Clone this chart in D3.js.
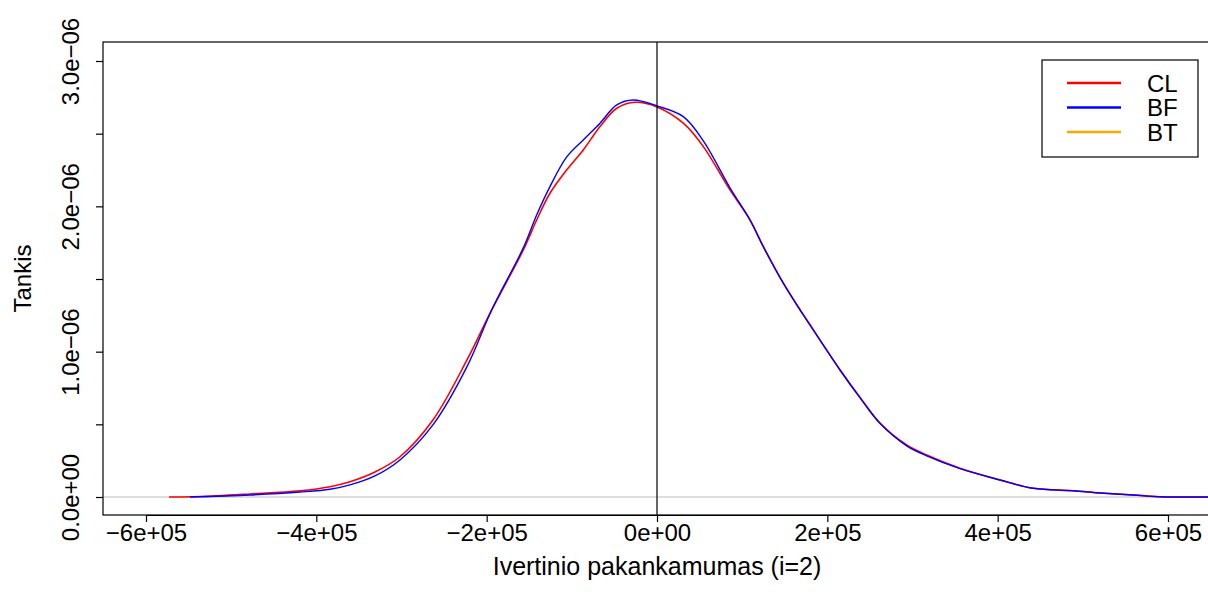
<!DOCTYPE html>
<html>
<head>
<meta charset="utf-8">
<script src="https://cdn.jsdelivr.net/npm/d3@7"></script>
<style>
  html, body { margin: 0; padding: 0; background: #fff; }
  svg { display: block; }
  text { font-family: "Liberation Sans", Arial, sans-serif; }
</style>
</head>
<body>
<svg id="chart" width="1208" height="608"></svg>
<script>
// ---- data ----
const seriesNames = ["CL", "BF", "BT"];
const seriesColors = ["#FF0000", "#0000FF", "#FFA500"];

const xCL = [-573000, -536700, -478000, -419300, -384000, -360500, -331200, -301800, -263100, -223100,
  -194100, -157000, -141300, -125700, -106000, -86600, -66900, -47300, -25800, 0,
  30900, 54400, 85700, 109200, 124800, 148300, 168000, 175800, 214900, 240400,
  261900, 293200, 316700, 355800, 402800, 441600, 488600, 520300, 559000, 590700, 647000, 700000];
const yCL = [0, 0.003e-6, 0.021e-6, 0.043e-6, 0.071e-6, 0.105e-6, 0.172e-6, 0.277e-6, 0.530e-6, 0.943e-6,
  1.287e-6, 1.700e-6, 1.906e-6, 2.090e-6, 2.251e-6, 2.388e-6, 2.549e-6, 2.675e-6, 2.716e-6, 2.684e-6,
  2.572e-6, 2.411e-6, 2.113e-6, 1.906e-6, 1.723e-6, 1.471e-6, 1.287e-6, 1.218e-6, 0.874e-6, 0.668e-6,
  0.507e-6, 0.358e-6, 0.289e-6, 0.198e-6, 0.117e-6, 0.060e-6, 0.043e-6, 0.028e-6, 0.014e-6, 0.002e-6, 0, 0];

const xBF = [-548400, -478000, -419300, -384000, -360500, -331200, -301800, -263100, -223100,
  -194100, -157000, -141300, -125700, -106000, -86600, -66900, -47300, -27800, 0,
  30900, 54400, 85700, 109200, 124800, 148300, 168000, 175800, 214900, 240400,
  261900, 293200, 316700, 355800, 402800, 441600, 488600, 520300, 559000, 590700, 647000, 700000];
const yBF = [0, 0.014e-6, 0.034e-6, 0.053e-6, 0.083e-6, 0.145e-6, 0.255e-6, 0.496e-6, 0.897e-6,
  1.287e-6, 1.714e-6, 1.941e-6, 2.136e-6, 2.340e-6, 2.457e-6, 2.572e-6, 2.698e-6, 2.732e-6, 2.691e-6,
  2.617e-6, 2.450e-6, 2.127e-6, 1.906e-6, 1.723e-6, 1.471e-6, 1.287e-6, 1.218e-6, 0.874e-6, 0.668e-6,
  0.507e-6, 0.352e-6, 0.283e-6, 0.195e-6, 0.117e-6, 0.060e-6, 0.043e-6, 0.028e-6, 0.014e-6, 0.002e-6, 0, 0];

const xTicks = [-600000, -400000, -200000, 0, 200000, 400000, 600000];
const xTickLabels = ["\u22126e+05", "\u22124e+05", "\u22122e+05", "0e+00", "2e+05", "4e+05", "6e+05"];
const yTicks = [0, 0.5e-6, 1.0e-6, 1.5e-6, 2.0e-6, 2.5e-6, 3.0e-6];
const yTickLabels = ["0.0e+00", "", "1.0e\u221206", "", "2.0e\u221206", "", "3.0e\u221206"];

const xTitle = "Ivertinio pakankamumas (i=2)";
const yTitle = "Tankis";

// ---- layout ----
const svg = d3.select("#chart");
const box = { left: 103, top: 42, right: 1214, bottom: 515 };
const x = d3.scaleLinear().domain([-600000, 600000]).range([146, 1168]);
const y = d3.scaleLinear().domain([0, 3e-6]).range([497, 61]);
const fontSize = 24;

svg.append("defs").append("clipPath").attr("id", "clip")
  .append("rect").attr("x", box.left).attr("y", box.top)
  .attr("width", box.right - box.left).attr("height", box.bottom - box.top);

// zero reference line
svg.append("line")
  .attr("x1", box.left).attr("x2", box.right)
  .attr("y1", y(0)).attr("y2", y(0))
  .attr("stroke", "#d3d3d3").attr("stroke-width", 1.5);

const plot = svg.append("g").attr("clip-path", "url(#clip)");

const line = d3.line().curve(d3.curveCatmullRom.alpha(0.5))
  .x(d => x(d[0])).y(d => y(d[1]));

const cl = xCL.map((v, i) => [v, yCL[i]]);
const bf = xBF.map((v, i) => [v, yBF[i]]);

plot.append("path").datum(cl).attr("d", line)
  .attr("fill", "none").attr("stroke", seriesColors[0]).attr("stroke-width", 1.6);
plot.append("path").datum(bf).attr("d", line)
  .attr("fill", "none").attr("stroke", seriesColors[1]).attr("stroke-width", 1.4);

svg.append("line")
  .attr("x1", x(0)).attr("x2", x(0))
  .attr("y1", box.top).attr("y2", box.bottom)
  .attr("stroke", "#000").attr("stroke-width", 1.2);

// box
svg.append("rect")
  .attr("x", box.left).attr("y", box.top)
  .attr("width", box.right - box.left).attr("height", box.bottom - box.top)
  .attr("fill", "none").attr("stroke", "#000").attr("stroke-width", 1.2);

// x axis
const xAxis = d3.axisBottom(x).tickValues(xTicks).tickSize(7)
  .tickFormat((d, i) => xTickLabels[i]);
const gx = svg.append("g").attr("transform", `translate(0,${box.bottom})`).call(xAxis);
gx.select(".domain").attr("d", `M${x(xTicks[0])},0.5H${x(xTicks[xTicks.length - 1])}`)
  .attr("stroke", "#000").attr("stroke-width", 1);
gx.selectAll(".tick line").attr("stroke", "#000").attr("stroke-width", 1.2);
gx.selectAll(".tick text").attr("font-size", fontSize).attr("fill", "#000")
  .attr("font-family", "Liberation Sans, Arial, sans-serif").attr("y", 9).attr("dy", "0.71em");

// y axis
const yAxis = d3.axisLeft(y).tickValues(yTicks).tickSize(7)
  .tickFormat((d, i) => yTickLabels[i]);
const gy = svg.append("g").attr("transform", `translate(${box.left},0)`).call(yAxis);
gy.select(".domain").remove();
gy.selectAll(".tick line").attr("stroke", "#000").attr("stroke-width", 1.2);
gy.selectAll(".tick text").attr("font-size", fontSize).attr("fill", "#000")
  .attr("font-family", "Liberation Sans, Arial, sans-serif")
  .attr("text-anchor", "middle").attr("x", 0).attr("dy", 0)
  .attr("transform", "translate(-24,0) rotate(-90)");

// titles
svg.append("text").attr("x", 657).attr("y", 575).attr("text-anchor", "middle")
  .attr("font-size", fontSize + 1).text(xTitle);
svg.append("text").attr("transform", `translate(31,${(box.top + box.bottom) / 2}) rotate(-90)`)
  .attr("text-anchor", "middle").attr("font-size", fontSize).text(yTitle);

// legend
const lg = svg.append("g");
lg.append("rect").attr("x", 1042).attr("y", 60).attr("width", 156).attr("height", 97)
  .attr("fill", "#fff").attr("stroke", "#000").attr("stroke-width", 1.2);
seriesNames.forEach((name, i) => {
  const yy = 83 + i * 24.5;
  lg.append("line").attr("x1", 1067).attr("x2", 1121).attr("y1", yy).attr("y2", yy)
    .attr("stroke", seriesColors[i]).attr("stroke-width", 2.5);
  lg.append("text").attr("x", 1147).attr("y", yy + 8.5).attr("font-size", fontSize)
    .attr("fill", "#000").text(name);
});
</script>
</body>
</html>
